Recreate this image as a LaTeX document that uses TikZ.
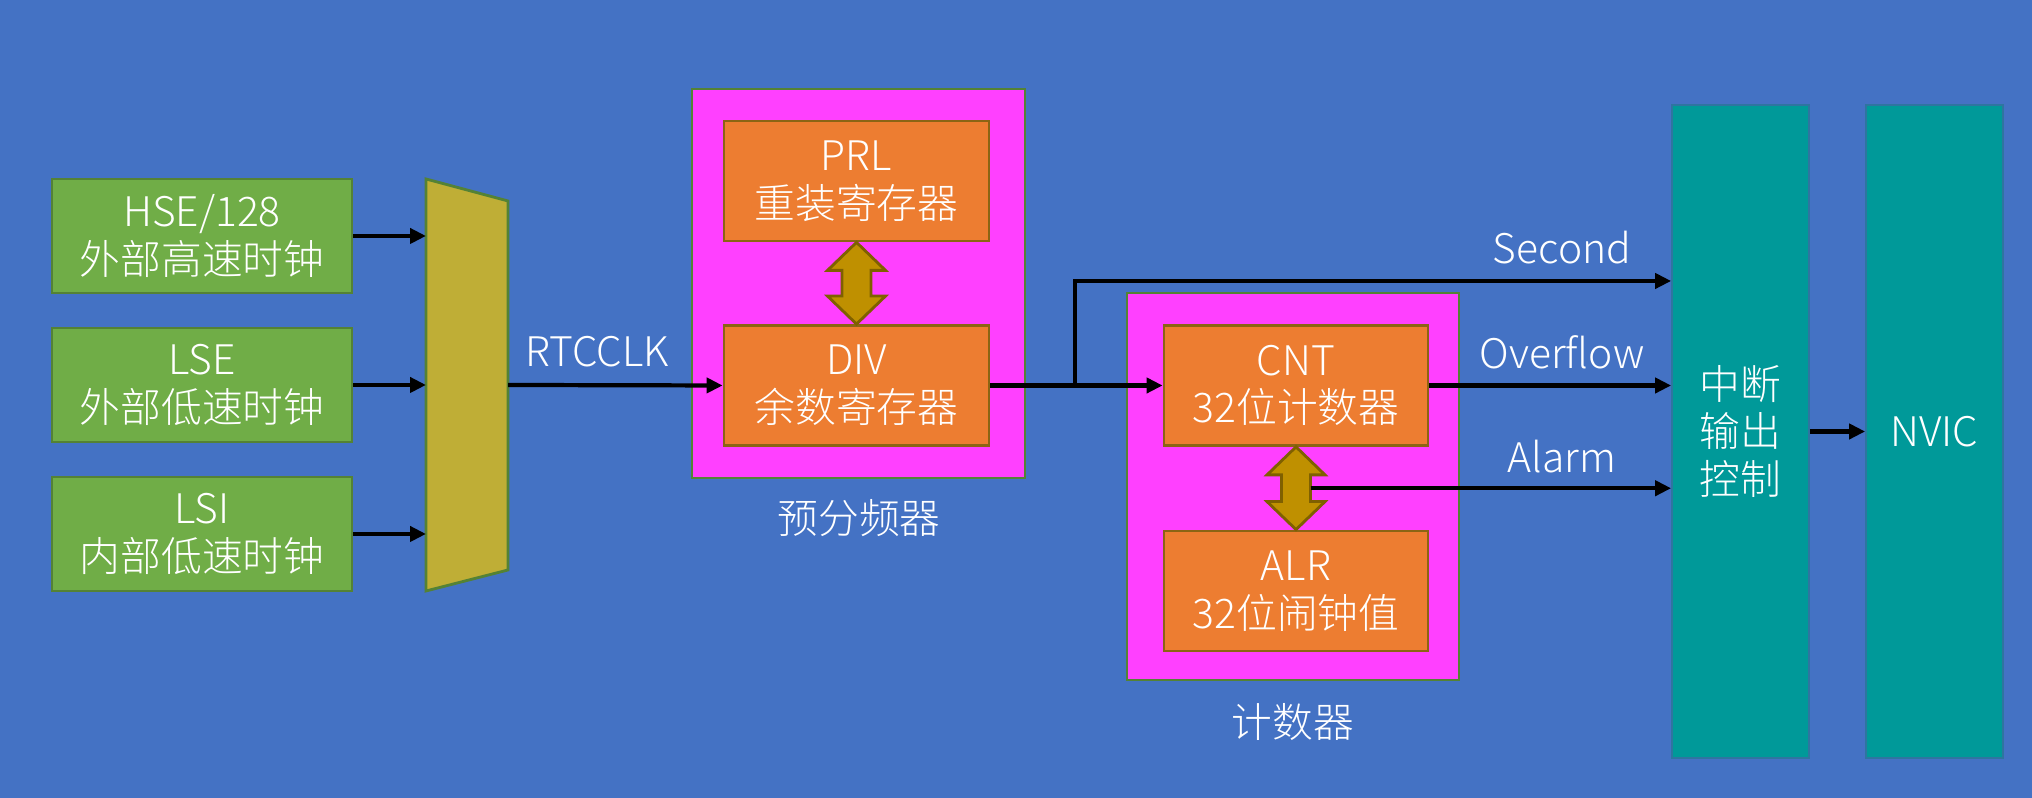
\documentclass[tikz,border=0pt]{standalone}
\usepackage{fontspec}
\setmainfont{Noto Sans CJK SC}[UprightFont=* Light]
\usepackage{tikz}
\usetikzlibrary{arrows.meta,positioning,calc}
\definecolor{bgblue}{RGB}{68, 114, 196}
\definecolor{clkgreen}{RGB}{112, 173, 71}
\definecolor{clkline}{RGB}{84, 130, 53}
\definecolor{muxgold}{RGB}{191, 174, 54}
\definecolor{grpmagenta}{RGB}{255, 64, 255}
\definecolor{grpline}{RGB}{84, 130, 53}
\definecolor{regorange}{RGB}{237, 125, 49}
\definecolor{regline}{RGB}{140, 100, 20}
\definecolor{busgold}{RGB}{191, 144, 0}
\definecolor{busline}{RGB}{127, 96, 0}
\definecolor{irqteal}{RGB}{0, 153, 153}
\definecolor{irqline}{RGB}{46, 117, 160}

\begin{document}
\begin{tikzpicture}
    % Styles
    \tikzstyle{txt} = [text=white, font=\fontsize{11.6}{13.6}\selectfont, align=center]
    \tikzstyle{srcbox} = [txt, draw=clkline, fill=clkgreen, line width=0.8pt, minimum width=3.0cm, minimum height=1.14cm, inner sep=0pt]
    \tikzstyle{grpbox} = [draw=grpline, fill=grpmagenta, line width=0.8pt, inner sep=0pt]
    \tikzstyle{regbox} = [txt, draw=regline, fill=regorange, line width=0.8pt, minimum width=2.65cm, minimum height=1.2cm, inner sep=0pt]
    \tikzstyle{irqbox} = [txt, draw=irqline, fill=irqteal, line width=0.5pt, minimum width=1.37cm, minimum height=6.53cm, inner sep=0pt]
    \tikzstyle{muxshape} = [draw=clkline, fill=muxgold, line width=0.8pt]
    \tikzstyle{busarrow} = [draw=busline, fill=busgold, line width=0.8pt, line join=miter]
    \tikzstyle{arrow} = [line width=1.2pt, ->, >={Triangle[length=1.6mm, width=1.5mm]}]

    % Background
    \fill[bgblue] (0,0) rectangle (20.32,7.98);

    % Clock sources
    \node[srcbox] (hse) at (2.02,5.62) {HSE/128\\外部高速时钟};
    \node[srcbox] (lse) at (2.02,4.13) {LSE\\外部低速时钟};
    \node[srcbox] (lsi) at (2.02,2.64) {LSI\\内部低速时钟};

    % Clock selector
    \node[inner sep=0pt, outer sep=0pt, minimum width=0.82cm, minimum height=4.12cm] (mux) at (4.67,4.13) {};
    \draw[muxshape] (mux.north west) -- ($(mux.north east)+(0,-0.22)$) -- ($(mux.south east)+(0,0.21)$) -- (mux.south west) -- cycle;
    \node[txt] (rtcclk) at (5.97,4.46) {RTCCLK};

    % Prescaler
    \node[grpbox, minimum width=3.33cm, minimum height=3.89cm] (psc) at (8.585,5.145) {};
    \node[regbox] (prl) at (8.565,6.17) {PRL\\重装寄存器};
    \node[regbox] (div) at (8.565,4.125) {DIV\\余数寄存器};
    \node[txt] (psclabel) at (8.59,2.80) {预分频器};

    % Counter
    \node[grpbox, minimum width=3.32cm, minimum height=3.87cm] (ctr) at (12.93,3.115) {};
    \node[regbox, minimum width=2.64cm] (cnt) at (12.96,4.125) {CNT\\32位计数器};
    \node[regbox, minimum width=2.64cm] (alr) at (12.96,2.07) {ALR\\32位闹钟值};
    \node[txt] (ctrlabel) at (12.93,0.76) {计数器};

    % Interrupt output and NVIC
    \node[irqbox] (intc) at (17.405,3.665) {中断\\输出\\控制};
    \node[irqbox] (nvic) at (19.345,3.665) {NVIC};

    % Event labels
    \node[txt] (seclabel) at (15.62,5.50) {Second};
    \node[txt] (ovflabel) at (15.62,4.46) {Overflow};
    \node[txt] (alrmlabel) at (15.62,3.41) {Alarm};

    % Register buses
    \draw[busarrow] (prl.south) -- ++(0.29,-0.28) -- ++(-0.145,0) -- ($(div.north)+(0.145,0.28)$) -- ++(0.145,0) -- (div.north) -- ++(-0.29,0.28) -- ++(0.145,0) -- ($(prl.south)+(-0.145,-0.28)$) -- ++(-0.145,0) -- cycle;
    \draw[busarrow] (cnt.south) -- ++(0.29,-0.28) -- ++(-0.145,0) -- ($(alr.north)+(0.145,0.28)$) -- ++(0.145,0) -- (alr.north) -- ++(-0.29,0.28) -- ++(0.145,0) -- ($(cnt.south)+(-0.145,-0.28)$) -- ++(-0.145,0) -- cycle;

    % Signal arrows
    \draw[arrow] (hse.east) -- (hse.east -| mux.west);
    \draw[arrow] (lse.east) -- (lse.east -| mux.west);
    \draw[arrow] (lsi.east) -- (lsi.east -| mux.west);
    \draw[arrow] (mux.east) -- (div.west);
    \draw[arrow] (div.east) -- (cnt.west);
    \coordinate (split) at (10.75,4.125);
    \coordinate (sectap) at (10.75,5.17);
    \draw[arrow] (split) -- (sectap) -- (sectap -| intc.west);
    \draw[arrow] (cnt.east) -- (cnt.east -| intc.west);
    \coordinate (alarmsrc) at ($(cnt.south)!0.5!(alr.north)+(0.145,0)$);
    \draw[arrow] (alarmsrc) -- (alarmsrc -| intc.west);
    \draw[arrow] (intc.east) -- (nvic.west);
\end{tikzpicture}
\end{document}
